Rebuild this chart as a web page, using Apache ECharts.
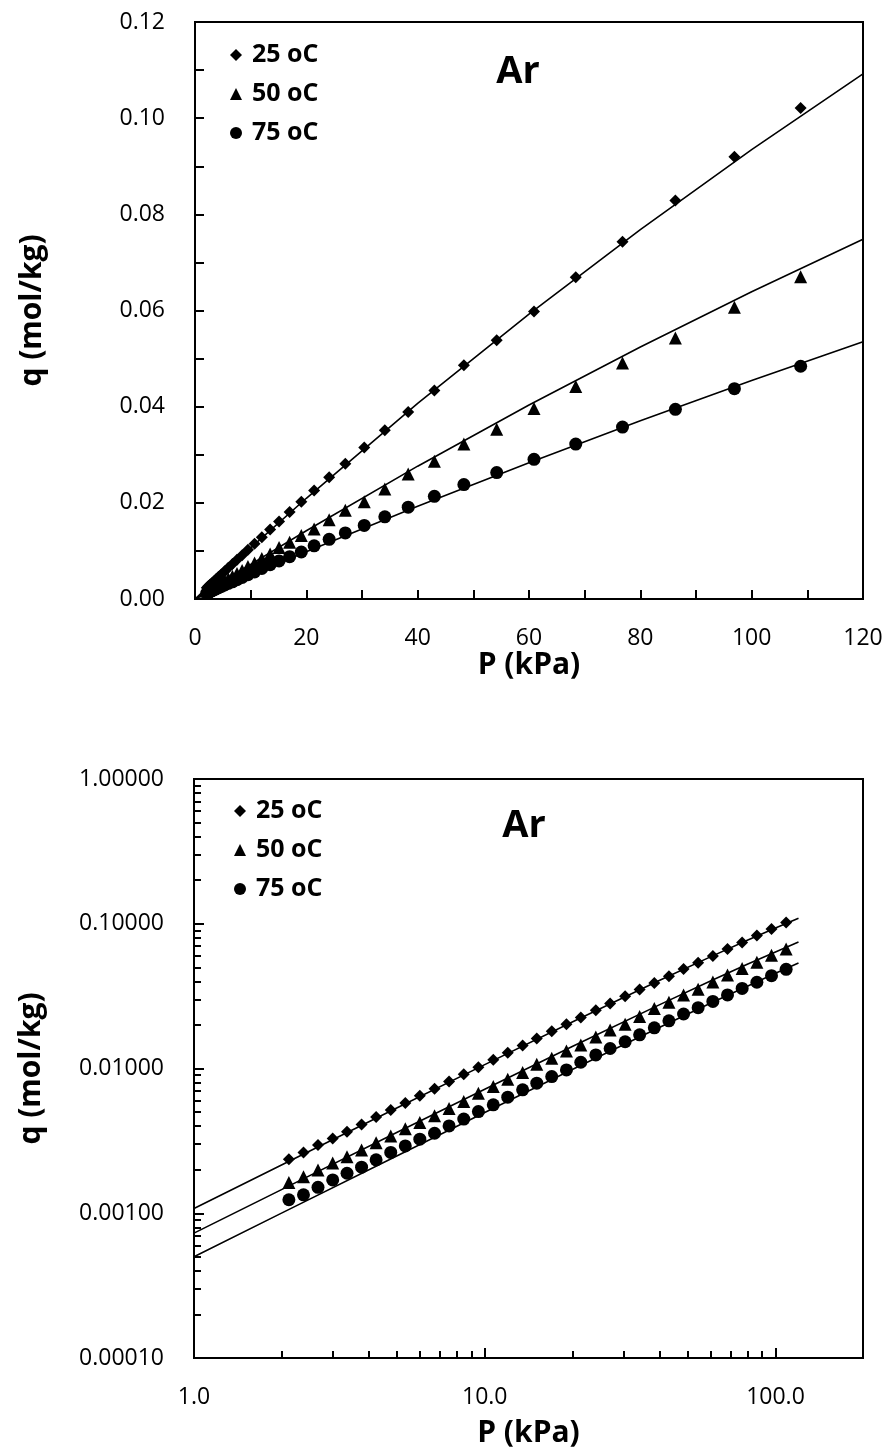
<!DOCTYPE html>
<html><head><meta charset="utf-8">
<script src="https://cdn.jsdelivr.net/npm/echarts@6/dist/echarts.min.js"></script>
<style>html,body{margin:0;padding:0;background:#fff}#c{width:890px;height:1449px}</style>
</head><body><div id="c"></div>
<script>
const seriesNames = ['25 oC', '50 oC', '75 oC'];
const pressure = [2.12, 2.38, 2.67, 3.00, 3.36, 3.77, 4.23, 4.75, 5.33, 5.98, 6.72, 7.54, 8.47, 9.51, 10.7, 12.0, 13.5, 15.1, 17.0, 19.1, 21.4, 24.1, 27.0, 30.4, 34.1, 38.3, 43.0, 48.3, 54.2, 60.9, 68.4, 76.8, 86.3, 96.9, 108.8];
const q25 = [0.00236, 0.00263, 0.00296, 0.00328, 0.00366, 0.00411, 0.00462, 0.00516, 0.00578, 0.00648, 0.00726, 0.00814, 0.00912, 0.01022, 0.01148, 0.01286, 0.01444, 0.01610, 0.01808, 0.02020, 0.02255, 0.02530, 0.02815, 0.03150, 0.03510, 0.03890, 0.04335, 0.04860, 0.05380, 0.05980, 0.06690, 0.07430, 0.08290, 0.09200, 0.10210];
const q50 = [0.00163, 0.00179, 0.00199, 0.00222, 0.00246, 0.00274, 0.00307, 0.00342, 0.00383, 0.00423, 0.00472, 0.00530, 0.00591, 0.00675, 0.00750, 0.00844, 0.00937, 0.01071, 0.01179, 0.01323, 0.01456, 0.01650, 0.01848, 0.02023, 0.02290, 0.02600, 0.02865, 0.03222, 0.03530, 0.03960, 0.04420, 0.04910, 0.05430, 0.06070, 0.06700];
const q75 = [0.00124, 0.00134, 0.00151, 0.00170, 0.00189, 0.00208, 0.00234, 0.00263, 0.00292, 0.00325, 0.00357, 0.00401, 0.00447, 0.00504, 0.00561, 0.00634, 0.00712, 0.00792, 0.00880, 0.00978, 0.01105, 0.01241, 0.01375, 0.01530, 0.01708, 0.01910, 0.02135, 0.02380, 0.02630, 0.02905, 0.03222, 0.03575, 0.03945, 0.04375, 0.04840];
const fitP = [0, 1, 2, 5, 10, 20, 40, 60, 80, 100, 120];
const fit25 = [0, 0.001078, 0.002153, 0.005358, 0.010634, 0.020948, 0.040667, 0.059264, 0.076830, 0.093450, 0.109198];
const fit50 = [0, 0.000729, 0.001456, 0.003624, 0.007197, 0.014195, 0.027624, 0.040348, 0.052420, 0.063889, 0.074800];
const fit75 = [0, 0.000501, 0.001002, 0.002497, 0.004968, 0.009833, 0.019271, 0.028335, 0.037048, 0.045430, 0.053499];
const logXMajor = [1, 10, 100];
const logXMinor = [2, 3, 4, 5, 6, 7, 8, 9, 20, 30, 40, 50, 60, 70, 80, 90];
const logYMajor = [0.0001, 0.001, 0.01, 0.1, 1];
const logYMinor = [0.0002, 0.0003, 0.0004, 0.0005, 0.0006, 0.0007, 0.0008, 0.0009,
  0.002, 0.003, 0.004, 0.005, 0.006, 0.007, 0.008, 0.009,
  0.02, 0.03, 0.04, 0.05, 0.06, 0.07, 0.08, 0.09,
  0.2, 0.3, 0.4, 0.5, 0.6, 0.7, 0.8, 0.9];
const gasLabel = 'Ar';
const xTitle = 'P (kPa)';
const yTitle = 'q (mol/kg)';

const FONT = '"Open Sans", "Liberation Sans", sans-serif';
const BLACK = '#000';
const symbols = ['diamond', 'triangle', 'circle'];
const symbolSizes = [12, 13, 13];
const qSets = [q25, q50, q75];
const fitSets = [fit25, fit50, fit75];

const chart = echarts.init(document.getElementById('c'), null, {renderer: 'canvas'});

const lineStyle = {color: BLACK, width: 2};
function baseAxis(extra) {
  return Object.assign({
    axisLine: {show: true, onZero: false, lineStyle: lineStyle},
    splitLine: {show: false},
    minorSplitLine: {show: false},
    nameLocation: 'middle',
    nameTextStyle: {fontFamily: FONT, fontWeight: 'bold', fontSize: 30, color: BLACK},
  }, extra);
}
const labelStyle = {fontFamily: FONT, fontSize: 23, color: BLACK};

const xAxes = [
  baseAxis({gridIndex: 0, type: 'value', position: 'bottom', min: 0, max: 120, interval: 20, name: xTitle, nameGap: 48,
    axisTick: {inside: true, length: 9, lineStyle: lineStyle},
    minorTick: {show: true, splitNumber: 2, length: 9, lineStyle: lineStyle},
    axisLabel: Object.assign({margin: 28}, labelStyle)}),
  baseAxis({gridIndex: 1, type: 'log', position: 'bottom', logBase: 10, min: 1, max: 200, name: xTitle, nameGap: 60,
    axisTick: {inside: true, length: 10, lineStyle: lineStyle, customValues: logXMajor},
    axisLabel: Object.assign({margin: 28, customValues: logXMajor, formatter: v => Number(v).toFixed(1)}, labelStyle)}),
  baseAxis({gridIndex: 1, type: 'log', position: 'bottom', offset: 0, logBase: 10, min: 1, max: 200, name: '',
    axisLine: {show: false},
    axisTick: {inside: true, length: 7, lineStyle: lineStyle, customValues: logXMinor},
    axisLabel: {show: false}})
];
const yAxes = [
  baseAxis({gridIndex: 0, type: 'value', position: 'left', min: 0, max: 0.12, interval: 0.02, name: yTitle, nameGap: 148,
    axisTick: {inside: true, length: 9, lineStyle: lineStyle},
    minorTick: {show: true, splitNumber: 2, length: 9, lineStyle: lineStyle},
    axisLabel: Object.assign({margin: 30, formatter: v => Number(v).toFixed(2)}, labelStyle)}),
  baseAxis({gridIndex: 1, type: 'log', position: 'left', logBase: 10, min: 0.0001, max: 1, name: yTitle, nameGap: 148,
    axisTick: {inside: true, length: 10, lineStyle: lineStyle, customValues: logYMajor},
    axisLabel: Object.assign({margin: 30, customValues: logYMajor, formatter: v => Number(v).toFixed(5)}, labelStyle)}),
  baseAxis({gridIndex: 1, type: 'log', position: 'left', offset: 0, logBase: 10, min: 0.0001, max: 1, name: '',
    axisLine: {show: false},
    axisTick: {inside: true, length: 7, lineStyle: lineStyle, customValues: logYMinor},
    axisLabel: {show: false}})
];

const series = [];
[0, 1].forEach(function (g) {
  seriesNames.forEach(function (name, k) {
    const fitData = fitP.map((p, i) => [p, fitSets[k][i]]).filter(d => g === 0 || d[0] > 0);
    series.push({
      type: 'line', name: name + ' fit', xAxisIndex: g, yAxisIndex: g,
      data: fitData, showSymbol: false, symbol: 'none', silent: true, z: 2,
      lineStyle: {color: BLACK, width: 1.6}
    });
  });
  seriesNames.forEach(function (name, k) {
    series.push({
      type: 'scatter', name: name, xAxisIndex: g, yAxisIndex: g,
      data: pressure.map((p, i) => [p, qSets[k][i]]),
      symbol: symbols[k], symbolSize: symbolSizes[k], z: 3,
      itemStyle: {color: BLACK, opacity: 1}
    });
  });
});

function legendAt(left, top) {
  return {
    orient: 'vertical', left: left, top: top, itemGap: 13, itemWidth: 12, itemHeight: 12,
    data: seriesNames.map((n, k) => ({name: n, icon: symbols[k]})),
    textStyle: {fontFamily: FONT, fontWeight: 'bold', fontSize: 25, color: BLACK, lineHeight: 26, padding: [0, 0, 0, 5]},
    itemStyle: {color: BLACK, opacity: 1}, selectedMode: false
  };
}

chart.setOption({
  animation: false,
  backgroundColor: '#fff',
  grid: [
    {left: 195, top: 22, width: 668, height: 577, show: true, borderColor: BLACK, borderWidth: 2, backgroundColor: 'transparent', containLabel: false},
    {left: 194, top: 779, width: 669, height: 579, show: true, borderColor: BLACK, borderWidth: 2, backgroundColor: 'transparent', containLabel: false}
  ],
  xAxis: xAxes,
  yAxis: yAxes,
  legend: [legendAt(225, 37), legendAt(229, 793)],
  graphic: [
    {type: 'text', style: {text: gasLabel, x: 518, y: 72, align: 'center', verticalAlign: 'middle', fontFamily: FONT, fontWeight: 'bold', fontSize: 38, fill: BLACK}},
    {type: 'text', style: {text: gasLabel, x: 524, y: 826, align: 'center', verticalAlign: 'middle', fontFamily: FONT, fontWeight: 'bold', fontSize: 38, fill: BLACK}}
  ],
  series: series
});
</script></body></html>
